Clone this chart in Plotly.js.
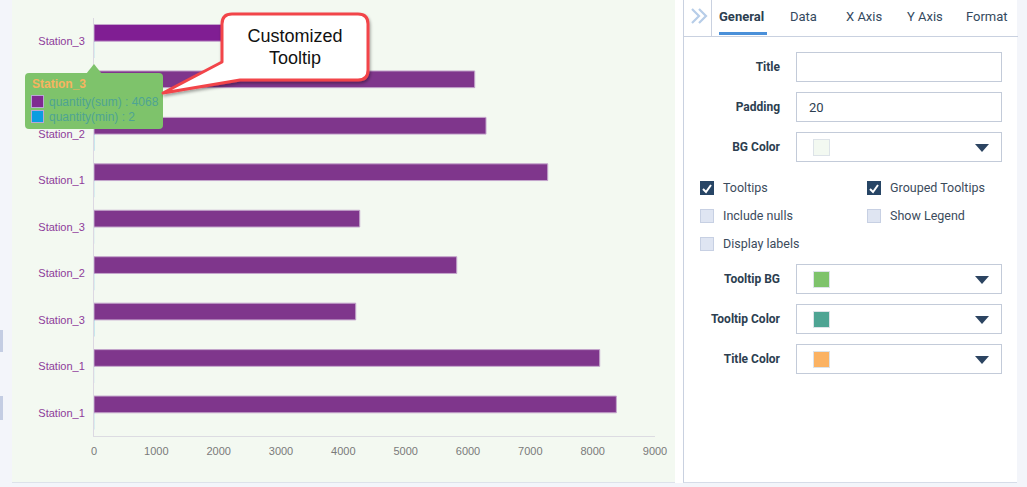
<!DOCTYPE html>
<html>
<head>
<meta charset="utf-8">
<script src="https://cdn.plot.ly/plotly-3.0.1.min.js"></script>
<style>
  body { margin:0; width:1027px; height:487px; background:#f3f5fa; position:relative; overflow:hidden; font-family:Roboto, "Liberation Sans", sans-serif; }
  #chartbox { position:absolute; left:12px; top:0; width:663px; height:482px; background:#f3f9f1; border-bottom:1px solid #dde2ea; }
  #fig { position:absolute; left:0; top:0; width:663px; height:482px; }
  #gap { position:absolute; left:675px; top:0; width:8px; height:483px; background:#fff; }
  #panel { position:absolute; left:683px; top:0; width:333px; height:482px; background:#fff; border-left:1px solid #c9d1e0; border-bottom:1px solid #d6dce8; }
  .tabs { position:absolute; left:0; top:0; width:334px; height:36px; border-bottom:1px solid #c9d1e0; }
  .chev { position:absolute; left:5px; top:6px; width:22px; height:20px; }
  .vsep { position:absolute; left:27px; top:0; width:1px; height:36px; background:#c9d1e0; }
  .tab { position:absolute; top:9px; font-size:13px; color:#34495e; }
  .tab.on { font-weight:bold; color:#2c3e50; }
  .uline { position:absolute; left:35px; top:32px; width:48px; height:3px; background:#4a90d9; }
  .lbl { position:absolute; width:96px; text-align:right; font-size:12px; font-weight:bold; color:#2c3e50; }
  .inp { position:absolute; left:112px; width:206px; height:30px; border:1px solid #c3cbd9; background:#fff; box-sizing:border-box; font-size:13px; color:#2c3e50; }
  .sw { position:absolute; left:16px; top:6px; width:17px; height:17px; border:1px solid #dde3e8; box-sizing:border-box; }
  .tri { position:absolute; right:12px; top:11px; width:0; height:0; border-left:7px solid transparent; border-right:7px solid transparent; border-top:8px solid #2c4461; }
  .cb { position:absolute; width:14px; height:14px; box-sizing:border-box; }
  .cb.off { background:#dfe5f2; border:1px solid #c7d0e3; }
  .cb.on { background:#274565; }
  .cbl { position:absolute; font-size:12.5px; color:#3b4b5c; }
  #tip { position:absolute; left:25px; top:73px; width:138px; height:56px; background:#7ec36b; border-radius:4px; font-family:"Liberation Sans", Arial, sans-serif; }
  #tip .arrow { position:absolute; left:61px; top:-9px; width:0; height:0; border-left:8px solid transparent; border-right:8px solid transparent; border-bottom:10px solid #7ec36b; }
  #tip .t { position:absolute; left:7px; top:4px; font-size:12px; font-weight:bold; color:#f7b35f; }
  #tip .row { position:absolute; left:6px; font-size:12px; color:#4ea493; white-space:nowrap; }
  #tip .row i { display:inline-block; width:11px; height:11px; border:1px solid #b9a7d6; vertical-align:-2px; margin-right:5px; }
  #callout { position:absolute; left:0; top:0; }
  .edge { position:absolute; left:0; width:3px; background:#c4cde3; }
</style>
</head>
<body>
<div class="edge" style="top:330px;height:22px"></div>
<div class="edge" style="top:396px;height:24px"></div>
<div id="chartbox"><div id="fig"></div></div>
<div id="gap"></div>

<div id="tip">
  <div class="arrow"></div>
  <div class="t" id="tipTitle"></div>
  <div class="row" style="top:22px"><i style="background:#7f2a91"></i><span id="tipSum"></span></div>
  <div class="row" style="top:37px"><i style="background:#0c9de0"></i><span id="tipMin"></span></div>
</div>

<svg id="callout" width="400" height="110">
  <defs>
    <filter id="sh" x="-20%" y="-20%" width="140%" height="150%">
      <feDropShadow dx="1" dy="2" stdDeviation="1.5" flood-color="#000" flood-opacity="0.35"/>
    </filter>
  </defs>
  <path d="M232,14 H358 Q368,14 368,24 V70 Q368,80 358,80 H240 L163,93 L222,62 V24 Q222,14 232,14 Z"
        fill="#fff" stroke="#f2444a" stroke-width="3" stroke-linejoin="round" filter="url(#sh)"/>
  <text x="295" y="42" text-anchor="middle" font-family="Liberation Sans, Arial" font-size="18" fill="#111">Customized</text>
  <text x="295" y="64" text-anchor="middle" font-family="Liberation Sans, Arial" font-size="18" fill="#111">Tooltip</text>
</svg>

<div id="panel">
  <div class="tabs">
    <svg class="chev" viewBox="0 0 22 20"><path d="M3,3 L10,10 L3,17 M10,3 L17,10 L10,17" fill="none" stroke="#b7cde8" stroke-width="2.2"/></svg>
    <div class="vsep"></div>
    <div class="tab on" style="left:35px">General</div>
    <div class="tab" style="left:106px">Data</div>
    <div class="tab" style="left:162px">X Axis</div>
    <div class="tab" style="left:223px">Y Axis</div>
    <div class="tab" style="left:282px">Format</div>
    <div class="uline"></div>
  </div>

  <div class="lbl" style="top:60px">Title</div>
  <div class="inp" style="top:52px"></div>
  <div class="lbl" style="top:100px">Padding</div>
  <div class="inp" style="top:92px;padding:7px 0 0 12px">20</div>
  <div class="lbl" style="top:140px">BG Color</div>
  <div class="inp" style="top:132px"><div class="sw" style="background:#f3f9f1"></div><div class="tri"></div></div>

  <div class="cb on" style="left:16px;top:181px"><svg width="14" height="14"><path d="M3,7 L6,10 L11,3" fill="none" stroke="#fff" stroke-width="2"/></svg></div>
  <div class="cbl" style="left:39px;top:180px">Tooltips</div>
  <div class="cb on" style="left:183px;top:181px"><svg width="14" height="14"><path d="M3,7 L6,10 L11,3" fill="none" stroke="#fff" stroke-width="2"/></svg></div>
  <div class="cbl" style="left:206px;top:180px">Grouped Tooltips</div>
  <div class="cb off" style="left:16px;top:209px"></div>
  <div class="cbl" style="left:39px;top:208px">Include nulls</div>
  <div class="cb off" style="left:183px;top:209px"></div>
  <div class="cbl" style="left:206px;top:208px">Show Legend</div>
  <div class="cb off" style="left:16px;top:237px"></div>
  <div class="cbl" style="left:39px;top:236px">Display labels</div>

  <div class="lbl" style="top:272px">Tooltip BG</div>
  <div class="inp" style="top:264px"><div class="sw" style="background:#7ec36b"></div><div class="tri"></div></div>
  <div class="lbl" style="top:312px">Tooltip Color</div>
  <div class="inp" style="top:304px"><div class="sw" style="background:#4ea493"></div><div class="tri"></div></div>
  <div class="lbl" style="top:352px">Title Color</div>
  <div class="inp" style="top:344px"><div class="sw" style="background:#fbb262"></div><div class="tri"></div></div>
</div>

<script>
// categories top to bottom (names repeat, so positions are indexed)
var stations = ['Station_3', 'Station_2', 'Station_2', 'Station_1', 'Station_3',
                'Station_2', 'Station_3', 'Station_1', 'Station_1'];
var qtySum = [4068, 6108, 6289, 7279, 4263, 5819, 4199, 8113, 8380];
var qtyMin = [2, 1, 3, 2, 1, 2, 3, 1, 2];
var xTicks = [0, 1000, 2000, 3000, 4000, 5000, 6000, 7000, 8000, 9000];
var hovered = 0;

var pos = stations.map(function (s, i) { return i; });
var sumColors = pos.map(function (i) { return i === hovered ? '#801e93' : '#7f368c'; });

var traces = [
  { type: 'bar', orientation: 'h', name: 'quantity(sum)', x: qtySum, y: pos,
    marker: { color: sumColors, line: { color: '#c4a6cc', width: 1 } } },
  { type: 'bar', orientation: 'h', name: 'quantity(min)', x: qtyMin, y: pos,
    marker: { color: '#0c9de0' } }
];

var layout = {
  width: 663, height: 482,
  margin: { l: 82, r: 20, t: 18, b: 46 },
  paper_bgcolor: 'rgba(0,0,0,0)', plot_bgcolor: 'rgba(0,0,0,0)',
  barmode: 'group', bargap: 0.28, bargroupgap: 0,
  showlegend: false,
  font: { family: 'Liberation Sans, Arial, sans-serif', size: 11 },
  xaxis: { range: [0, 9000], tickvals: xTicks, showgrid: false, zeroline: false,
           showline: true, linecolor: '#dcdce2', ticks: '', ticklabelstandoff: 5,
           tickfont: { color: '#7a7a7a', size: 11 } },
  yaxis: { range: [8.5, -0.5], tickvals: pos, ticktext: stations, showgrid: false,
           zeroline: false, showline: true, linecolor: '#dcd8e2', ticks: '',
           ticklabelstandoff: 6, tickfont: { color: '#8e3c9a', size: 11 } }
};

Plotly.newPlot('fig', traces, layout, { displayModeBar: false, staticPlot: true });

document.getElementById('tipTitle').textContent = stations[hovered];
document.getElementById('tipSum').textContent = 'quantity(sum) : ' + qtySum[hovered];
document.getElementById('tipMin').textContent = 'quantity(min) : ' + qtyMin[hovered];
</script>
</body>
</html>
